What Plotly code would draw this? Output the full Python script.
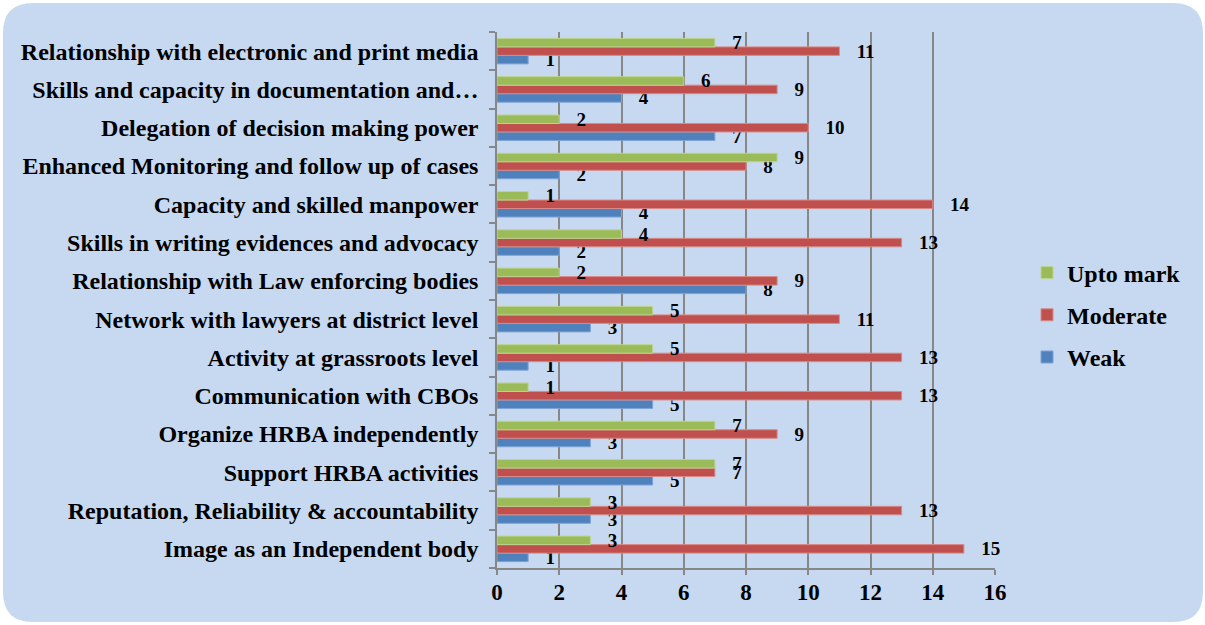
import plotly.graph_objects as go

# Categories listed from top to bottom as they appear in the chart
categories = [
    "Relationship with electronic and print media",
    "Skills and capacity in documentation and…",
    "Delegation of decision making power",
    "Enhanced Monitoring and follow up of cases",
    "Capacity and skilled manpower",
    "Skills in writing evidences and advocacy",
    "Relationship with Law enforcing bodies",
    "Network with lawyers at district level",
    "Activity at grassroots level",
    "Communication with CBOs",
    "Organize HRBA independently",
    "Support HRBA activities",
    "Reputation, Reliability & accountability",
    "Image as an Independent body",
]
upto_mark = [7, 6, 2, 9, 1, 4, 2, 5, 5, 1, 7, 7, 3, 3]
moderate = [11, 9, 10, 8, 14, 13, 9, 11, 13, 13, 9, 7, 13, 15]
weak = [1, 4, 7, 2, 4, 2, 8, 3, 1, 5, 3, 5, 3, 1]
x_ticks = [0, 2, 4, 6, 8, 10, 12, 14, 16]

cats = categories[::-1]
series = [
    ("Weak", weak[::-1], "#4f81bd", "#7ea3d4", 3),
    ("Moderate", moderate[::-1], "#c0504d", "#d88a88", 2),
    ("Upto mark", upto_mark[::-1], "#9bbb59", "#bcd48f", 1),
]

FONT = "Liberation Serif, Times New Roman, serif"

fig = go.Figure()
for name, vals, col, lcol, rank in series:
    fig.add_trace(go.Bar(
        y=cats, x=vals, name=name, orientation="h",
        marker=dict(color=col, line=dict(color=lcol, width=1)),
        texttemplate="\u00a0\u00a0\u00a0%{x}", textposition="outside",
        constraintext="none", cliponaxis=False,
        textfont=dict(family=FONT, size=19, color="black", weight="bold"),
        legendgroup=name, legendrank=rank,
    ))

# Plot area pixel geometry
L, R, T, B = 497, 995, 32, 568
W, H = R - L, B - T

def px(x):
    return (x - L) / W

def py(y):
    return (B - y) / H

# rounded background panel
bl, br, bt, bb, rad = 3, 1203, 3, 622, 30
path = (
    f"M {px(bl+rad)},{py(bt)} L {px(br-rad)},{py(bt)} "
    f"Q {px(br)},{py(bt)} {px(br)},{py(bt+rad)} "
    f"L {px(br)},{py(bb-rad)} Q {px(br)},{py(bb)} {px(br-rad)},{py(bb)} "
    f"L {px(bl+rad)},{py(bb)} Q {px(bl)},{py(bb)} {px(bl)},{py(bb-rad)} "
    f"L {px(bl)},{py(bt+rad)} Q {px(bl)},{py(bt)} {px(bl+rad)},{py(bt)} Z"
)

fig.update_layout(
    width=1205, height=625,
    margin=dict(l=L, r=1205 - R, t=T, b=625 - B),
    paper_bgcolor="white",
    plot_bgcolor="rgba(0,0,0,0)",
    barmode="group", bargap=0.334, bargroupgap=0,
    font=dict(family=FONT, size=24, color="black", weight="bold"),
    shapes=[dict(type="path", path=path, xref="paper", yref="paper",
                 fillcolor="#c6d9f0", line=dict(width=0), layer="below")],
    legend=dict(
        x=px(1027), xanchor="left", y=py(315), yanchor="middle",
        traceorder="grouped", tracegroupgap=8,
        font=dict(family=FONT, size=24, color="black", weight="bold"),
        bgcolor="rgba(0,0,0,0)",
    ),
    showlegend=True,
)
fig.update_xaxes(
    range=[0, 16], tickvals=x_ticks, showgrid=True, gridcolor="#878787", gridwidth=2,
    showline=True, linecolor="#878787", linewidth=1.5,
    ticks="outside", ticklen=5, tickcolor="#878787", tickwidth=1.5,
    ticklabelstandoff=-2,
    tickfont=dict(family=FONT, size=23, color="black", weight="bold"), zeroline=False,
)
fig.update_yaxes(
    type="category", categoryorder="array", categoryarray=cats,
    showline=True, linecolor="#878787", linewidth=1.5,
    ticks="outside", ticklen=6, tickcolor="#878787", tickwidth=1.5,
    tickson="boundaries", ticklabelstandoff=12,
    tickfont=dict(family=FONT, size=24, color="black", weight="bold"),
)

fig.write_html("out.html", config={"displayModeBar": False},
               post_script="document.body.style.margin='0';")
